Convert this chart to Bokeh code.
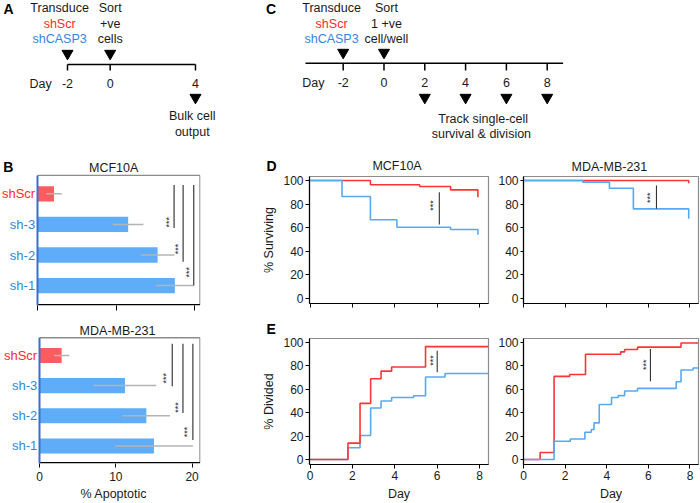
import math
from bokeh.plotting import figure
from bokeh.layouts import row, column
from bokeh.models import Range1d, FixedTicker
from bokeh.core.properties import value
from bokeh.embed import file_html
from bokeh.resources import INLINE

FONT = "Liberation Sans"
RED = "#ff3535"
BLUE = "#58a9f4"
RED_BAR = "#ff5c5f"
BLUE_BAR = "#5fadf8"
RED_TXT = "#ff2a2a"
BLUE_TXT = "#2f87dc"
INK = "#1a1a1a"
FS = "12.5px"
TICK_FS = "12px"

# ---------------- data ----------------
timeline_a_days = [-2, 0, 4]
timeline_c_days = [-2, 0, 2, 4, 6, 8]
transduce_lines = ["Transduce", "shScr", "shCASP3"]
sort_a_lines = ["Sort", "+ve", "cells"]
sort_c_lines = ["Sort", "1 +ve", "cell/well"]
bulk_lines = ["Bulk cell", "output"]
track_lines = ["Track single-cell", "survival  & division"]

categories = ["shScr", "sh-3", "sh-2", "sh-1"]
cat_pos = [3, 2, 1, 0]
mcf_apoptotic = [2.1, 11.55, 15.3, 17.5]
mcf_apoptotic_sd = [1.0, 1.95, 2.15, 2.4]
mda_apoptotic = [2.9, 11.2, 14.0, 15.0]
mda_apoptotic_sd = [1.0, 4.1, 3.1, 5.1]
mcf_sig_x = [17.4, 18.55, 19.9]
mcf_sig_bottom = [1.88, 0.78, 0.0]
mcf_sig_top = 3.29
mcf_star_x = [16.7, 17.9, 19.3]
mcf_star_y = [2.07, 1.2, 0.44]
mda_sig_x = [17.4, 18.8, 20.1]
mda_sig_bottom = [1.98, 1.09, 0.2]
mda_sig_top = 3.39
mda_star_x = [16.6, 18.2, 19.35]
mda_star_y = [2.24, 1.27, 0.46]

# survival (D)
mcf_surv_scr_day = [0, 2.85, 5.17, 6.63, 7.92]
mcf_surv_scr = [100, 96.4, 94.9, 92.1, 85.8]
mcf_surv_casp_day = [0, 1.51, 2.85, 4.1, 6.63, 7.92]
mcf_surv_casp = [100, 86.4, 66.7, 60.4, 58.5, 54.0]
mda_surv_scr_day = [0, 7.94]
mda_surv_scr = [100, 97.7]
mda_surv_casp_day = [0, 2.85, 4.13, 5.28, 7.94]
mda_surv_casp = [100, 98.6, 93.5, 76.0, 67.5]

# division (E)
mcf_div_scr_day = [0, 1.79, 2.36, 2.86, 3.35, 3.85, 5.45, 8.43]
mcf_div_scr = [0, 14, 48, 69, 75.5, 79, 96.5, 96.5]
mcf_div_casp_day = [0, 1.79, 2.36, 2.86, 3.35, 3.85, 4.89, 5.45, 6.37, 8.43]
mcf_div_casp = [0, 10, 20.5, 44, 50, 53, 54.5, 70.5, 73.5, 73.5]
mda_div_scr_day = [0, 0.8, 1.47, 2.22, 2.98, 4.67, 4.86, 5.48, 7.57, 8.41]
mda_div_scr = [0, 6, 71, 72.7, 90, 92, 94, 96, 99.5, 99.5]
mda_div_casp_day = [0, 1.47, 2.25, 2.95, 3.26, 3.39, 3.64, 4.23, 4.55, 4.86,
                    5.48, 7.34, 7.57, 8.15, 8.41]
mda_div_casp = [0, 15.6, 17.6, 23.3, 25.6, 31.3, 47, 53, 54.6, 58.6,
                60.8, 66.5, 76.5, 78.2, 78.2]

# significance (D/E): line x, line top, line bottom, star x, star y
d_mcf_sig = (6.1, 90, 62.7, 5.8, 78.8)
d_mda_sig = (6.39, 95.8, 76, 6.1, 85.3)
e_mcf_sig = (6.0, 93, 74.6, 5.8, 84.6)
e_mda_sig = (6.1, 94.4, 66.8, 5.9, 81)

day_ticks = [0, 2, 4, 6, 8]
pct_ticks = [0, 20, 40, 60, 80, 100]
apop_ticks = [0, 10, 20]


# ---------------- helpers ----------------
def new_fig(w, h, xr, yr, left=0, right=0, top=0, bottom=0, axes=True):
    kw = {}
    if not axes:
        kw = dict(x_axis_type=None, y_axis_type=None)
    p = figure(width=w, height=h, x_range=xr, y_range=yr,
               output_backend="svg", toolbar_location=None,
               min_border_left=left, min_border_right=right,
               min_border_top=top, min_border_bottom=bottom, **kw)
    p.grid.visible = False
    p.outline_line_color = None
    p.border_fill_color = "white"
    return p


def style_axis(ax, labels=True, tick_out=4, standoff=2, label_standoff=3):
    ax.axis_line_color = "black"
    ax.axis_line_width = 1.2
    ax.major_tick_line_color = "black"
    ax.minor_tick_line_color = None
    ax.major_tick_out = tick_out
    ax.major_tick_in = 0
    ax.major_label_text_font = FONT
    ax.major_label_text_color = INK
    ax.axis_label_text_font = FONT
    ax.axis_label_text_font_size = FS
    ax.axis_label_text_font_style = "normal"
    ax.axis_label_text_color = INK
    ax.axis_label_standoff = label_standoff
    if labels:
        ax.major_label_text_font_size = TICK_FS
        ax.major_label_standoff = standoff
    else:
        ax.major_label_text_font_size = "1px"
        ax.major_label_text_alpha = 0
        ax.major_label_standoff = 0


def txt(p, xs, ys, texts, colors=None, size=FS, align="center", angle=0.0, bold=False):
    if colors is None:
        colors = [INK] * len(texts)
    p.text(x=xs, y=ys, text=texts, text_color=colors, text_font=value(FONT),
           text_font_size=value(size), text_align=align, text_baseline="middle",
           text_font_style="bold" if bold else "normal", angle=angle)


def tri(p, xs, ys):
    p.scatter(x=xs, y=ys, marker="inverted_triangle", size=11, color="black")


# ---------------- A (schematic) ----------------
pa = new_fig(232, 145, Range1d(-5.141, 5.735), Range1d(145, 0), axes=False)
pa.segment(x0=[timeline_a_days[0]], y0=[64], x1=[timeline_a_days[-1]], y1=[64],
           line_color="black", line_width=1.5)
pa.segment(x0=timeline_a_days, y0=[64] * 3, x1=timeline_a_days, y1=[70] * 3,
           line_color="black", line_width=1.5)
tri(pa, timeline_a_days[:2], [53, 53])
tri(pa, timeline_a_days[2:], [97])
txt(pa, [-2.37] * 3, [7, 23, 38], transduce_lines, [INK, RED_TXT, BLUE_TXT])
txt(pa, [0] * 3, [7, 23, 38], sort_a_lines)
txt(pa, timeline_a_days, [83] * 3, [str(d) for d in timeline_a_days])
txt(pa, [-3.26], [83], ["Day"])
txt(pa, [3.85] * 2, [115, 131], bulk_lines)
txt(pa, [-5.0], [8], ["A"], ["black"], size="14px", align="left", bold=True)

# ---------------- C (schematic + D titles) ----------------
pc = new_fig(468, 175, Range1d(-7.426, 15.515), Range1d(175, 0), axes=False)
pc.segment(x0=[-3.85], y0=[62.7], x1=[8.78], y1=[62.7], line_color="black", line_width=1.5)
pc.segment(x0=timeline_c_days, y0=[63] * 6, x1=timeline_c_days, y1=[70] * 6,
           line_color="black", line_width=1.5)
tri(pc, timeline_c_days[:2], [52, 52])
tri(pc, timeline_c_days[2:], [97] * 4)
txt(pc, [-2.57] * 3, [7, 23, 38], transduce_lines, [INK, RED_TXT, BLUE_TXT])
txt(pc, [0.12] * 3, [7, 23, 38], sort_c_lines)
txt(pc, timeline_c_days, [82] * 6, [str(d) for d in timeline_c_days])
txt(pc, [-3.46], [82], ["Day"])
txt(pc, [4.86] * 2, [118, 133], track_lines)
txt(pc, [-5.78], [8], ["C"], ["black"], size="14px", align="left", bold=True)
txt(pc, [-5.76], [165.7], ["D"], ["black"], size="14px", align="left", bold=True)
txt(pc, [0.64, 11.05], [165, 166], ["MCF10A", "MDA-MB-231"])


# ---------------- B (bar charts) ----------------
def bar_panel(h, bottom, xr, yr, box_top, vals, sds, sig_x, sig_top, sig_bot,
              star_x, star_y, title, title_x, title_y, show_labels, standoff):
    p = new_fig(232, h, xr, yr, left=0, right=32, top=0, bottom=bottom)
    p.yaxis.visible = False
    style_axis(p.xaxis, labels=show_labels, tick_out=5 if not show_labels else 4,
               standoff=standoff, label_standoff=1)
    p.xaxis.axis_line_color = None
    p.xaxis.ticker = FixedTicker(ticks=apop_ticks)
    x_right = xr.end - 0.07
    y_bot = yr.start + 0.025
    # frame box (grey top/right, black bottom)
    p.segment(x0=[0, x_right], y0=[box_top, y_bot], x1=[x_right, x_right],
              y1=[box_top, box_top], line_color="#8c8c8c", line_width=1.3)
    colors = [RED_BAR] + [BLUE_BAR] * 3
    p.hbar(y=cat_pos, left=0, right=vals, height=0.5, fill_color=colors, line_color=None)
    p.segment(x0=[v - s for v, s in zip(vals, sds)], y0=cat_pos,
              x1=[v + s for v, s in zip(vals, sds)], y1=cat_pos,
              line_color="#b4b4b4", line_width=1.5)
    p.segment(x0=[0], y0=[y_bot], x1=[x_right], y1=[y_bot], line_color="black",
              line_width=1.3)
    p.segment(x0=[0], y0=[yr.start], x1=[0], y1=[box_top], line_color="#3a6fd0",
              line_width=2)
    p.segment(x0=sig_x, y0=[sig_top] * 3, x1=sig_x, y1=sig_bot, line_color="#4a4a4a",
              line_width=1.3)
    txt(p, star_x, star_y, ["***"] * 3, size="9px", angle=math.pi / 2)
    txt(p, [-0.3] * 4, cat_pos, categories,
        [RED_TXT if c == "shScr" else BLUE_TXT for c in categories],
        size="13px", align="right")
    txt(p, [title_x], [title_y], [title])
    return p


pb1 = bar_panel(173, 13, Range1d(-4.713, 20.764), Range1d(-0.65, 4.578), 3.6,
                mcf_apoptotic, mcf_apoptotic_sd, mcf_sig_x, mcf_sig_top, mcf_sig_bottom,
                mcf_star_x, mcf_star_y, "MCF10A", 9.7, 3.84, False, 0)
txt(pb1, [-4.36], [3.87], ["B"], ["black"], size="14px", align="left", bold=True)

pb2 = bar_panel(167, 22, Range1d(-5.11, 21.1), Range1d(-0.583, 4.225), 3.586,
                mda_apoptotic, mda_apoptotic_sd, mda_sig_x, mda_sig_top, mda_sig_bottom,
                mda_star_x, mda_star_y, "MDA-MB-231", 10.22, 3.80, True, 4)

strip_b = new_fig(232, 18, Range1d(0, 232), Range1d(503, 485), axes=False)
txt(strip_b, [113.3], [493], ["% Apoptotic"])


# ---------------- D / E (step curves) ----------------
def km_panel(w, h, xr, left, right, top, bottom, scr_x, scr_y, casp_x, casp_y, sig,
             xlabels, ylabel=None, xlabel=None, blue_on_top=True):
    p = new_fig(w, h, xr, Range1d(-4.25, 103.4), left, right, top, bottom)
    p.outline_line_color = "#8c8c8c"
    p.outline_line_width = 1.2
    style_axis(p.yaxis, labels=True, tick_out=4 if left > 40 else 3, standoff=2,
               label_standoff=4)
    style_axis(p.xaxis, labels=xlabels, tick_out=4, standoff=2, label_standoff=4)
    p.yaxis.ticker = FixedTicker(ticks=pct_ticks)
    p.xaxis.ticker = FixedTicker(ticks=day_ticks)
    if ylabel:
        p.yaxis.axis_label = ylabel
    if xlabel:
        p.xaxis.axis_label = xlabel
    order = [(scr_x, scr_y, RED), (casp_x, casp_y, BLUE)]
    if not blue_on_top:
        order = order[::-1]
    for xs, ys, col in order:
        p.step(x=xs, y=ys, mode="after", line_color=col, line_width=1.6)
    sx, st, sb, ax_, ay_ = sig
    p.segment(x0=[sx], y0=[st], x1=[sx], y1=[sb], line_color="#333333", line_width=1.1)
    txt(p, [ax_], [ay_], ["***"], size="9px", angle=math.pi / 2)
    return p


pd1 = km_panel(263, 143, Range1d(-0.024, 8.42), 77, 7, 1, 15,
               mcf_surv_scr_day, mcf_surv_scr, mcf_surv_casp_day, mcf_surv_casp,
               d_mcf_sig, False, ylabel="% Surviving")
pd2 = km_panel(205, 143, Range1d(0, 8.41), 28, 2, 1, 15,
               mda_surv_scr_day, mda_surv_scr, mda_surv_casp_day, mda_surv_casp,
               d_mda_sig, False)

strip_e = new_fig(468, 19, Range1d(232, 700), Range1d(337, 318), axes=False)
txt(strip_e, [266], [328.8], ["E"], ["black"], size="14px", align="left", bold=True)

pe1 = km_panel(263, 166, Range1d(-0.024, 8.42), 77, 7, 1, 39,
               mcf_div_scr_day, mcf_div_scr, mcf_div_casp_day, mcf_div_casp,
               e_mcf_sig, True, ylabel="% Divided", xlabel="Day", blue_on_top=False)
pe2 = km_panel(205, 166, Range1d(0, 8.41), 28, 2, 1, 39,
               mda_div_scr_day, mda_div_scr, mda_div_casp_day, mda_div_casp,
               e_mda_sig, True, xlabel="Day")

layout = row(column(row(pa), row(pb1), row(pb2), row(strip_b)),
             column(row(pc), row(pd1, pd2), row(strip_e), row(pe1, pe2)))

open("out.html", "w").write(file_html(layout, INLINE))
